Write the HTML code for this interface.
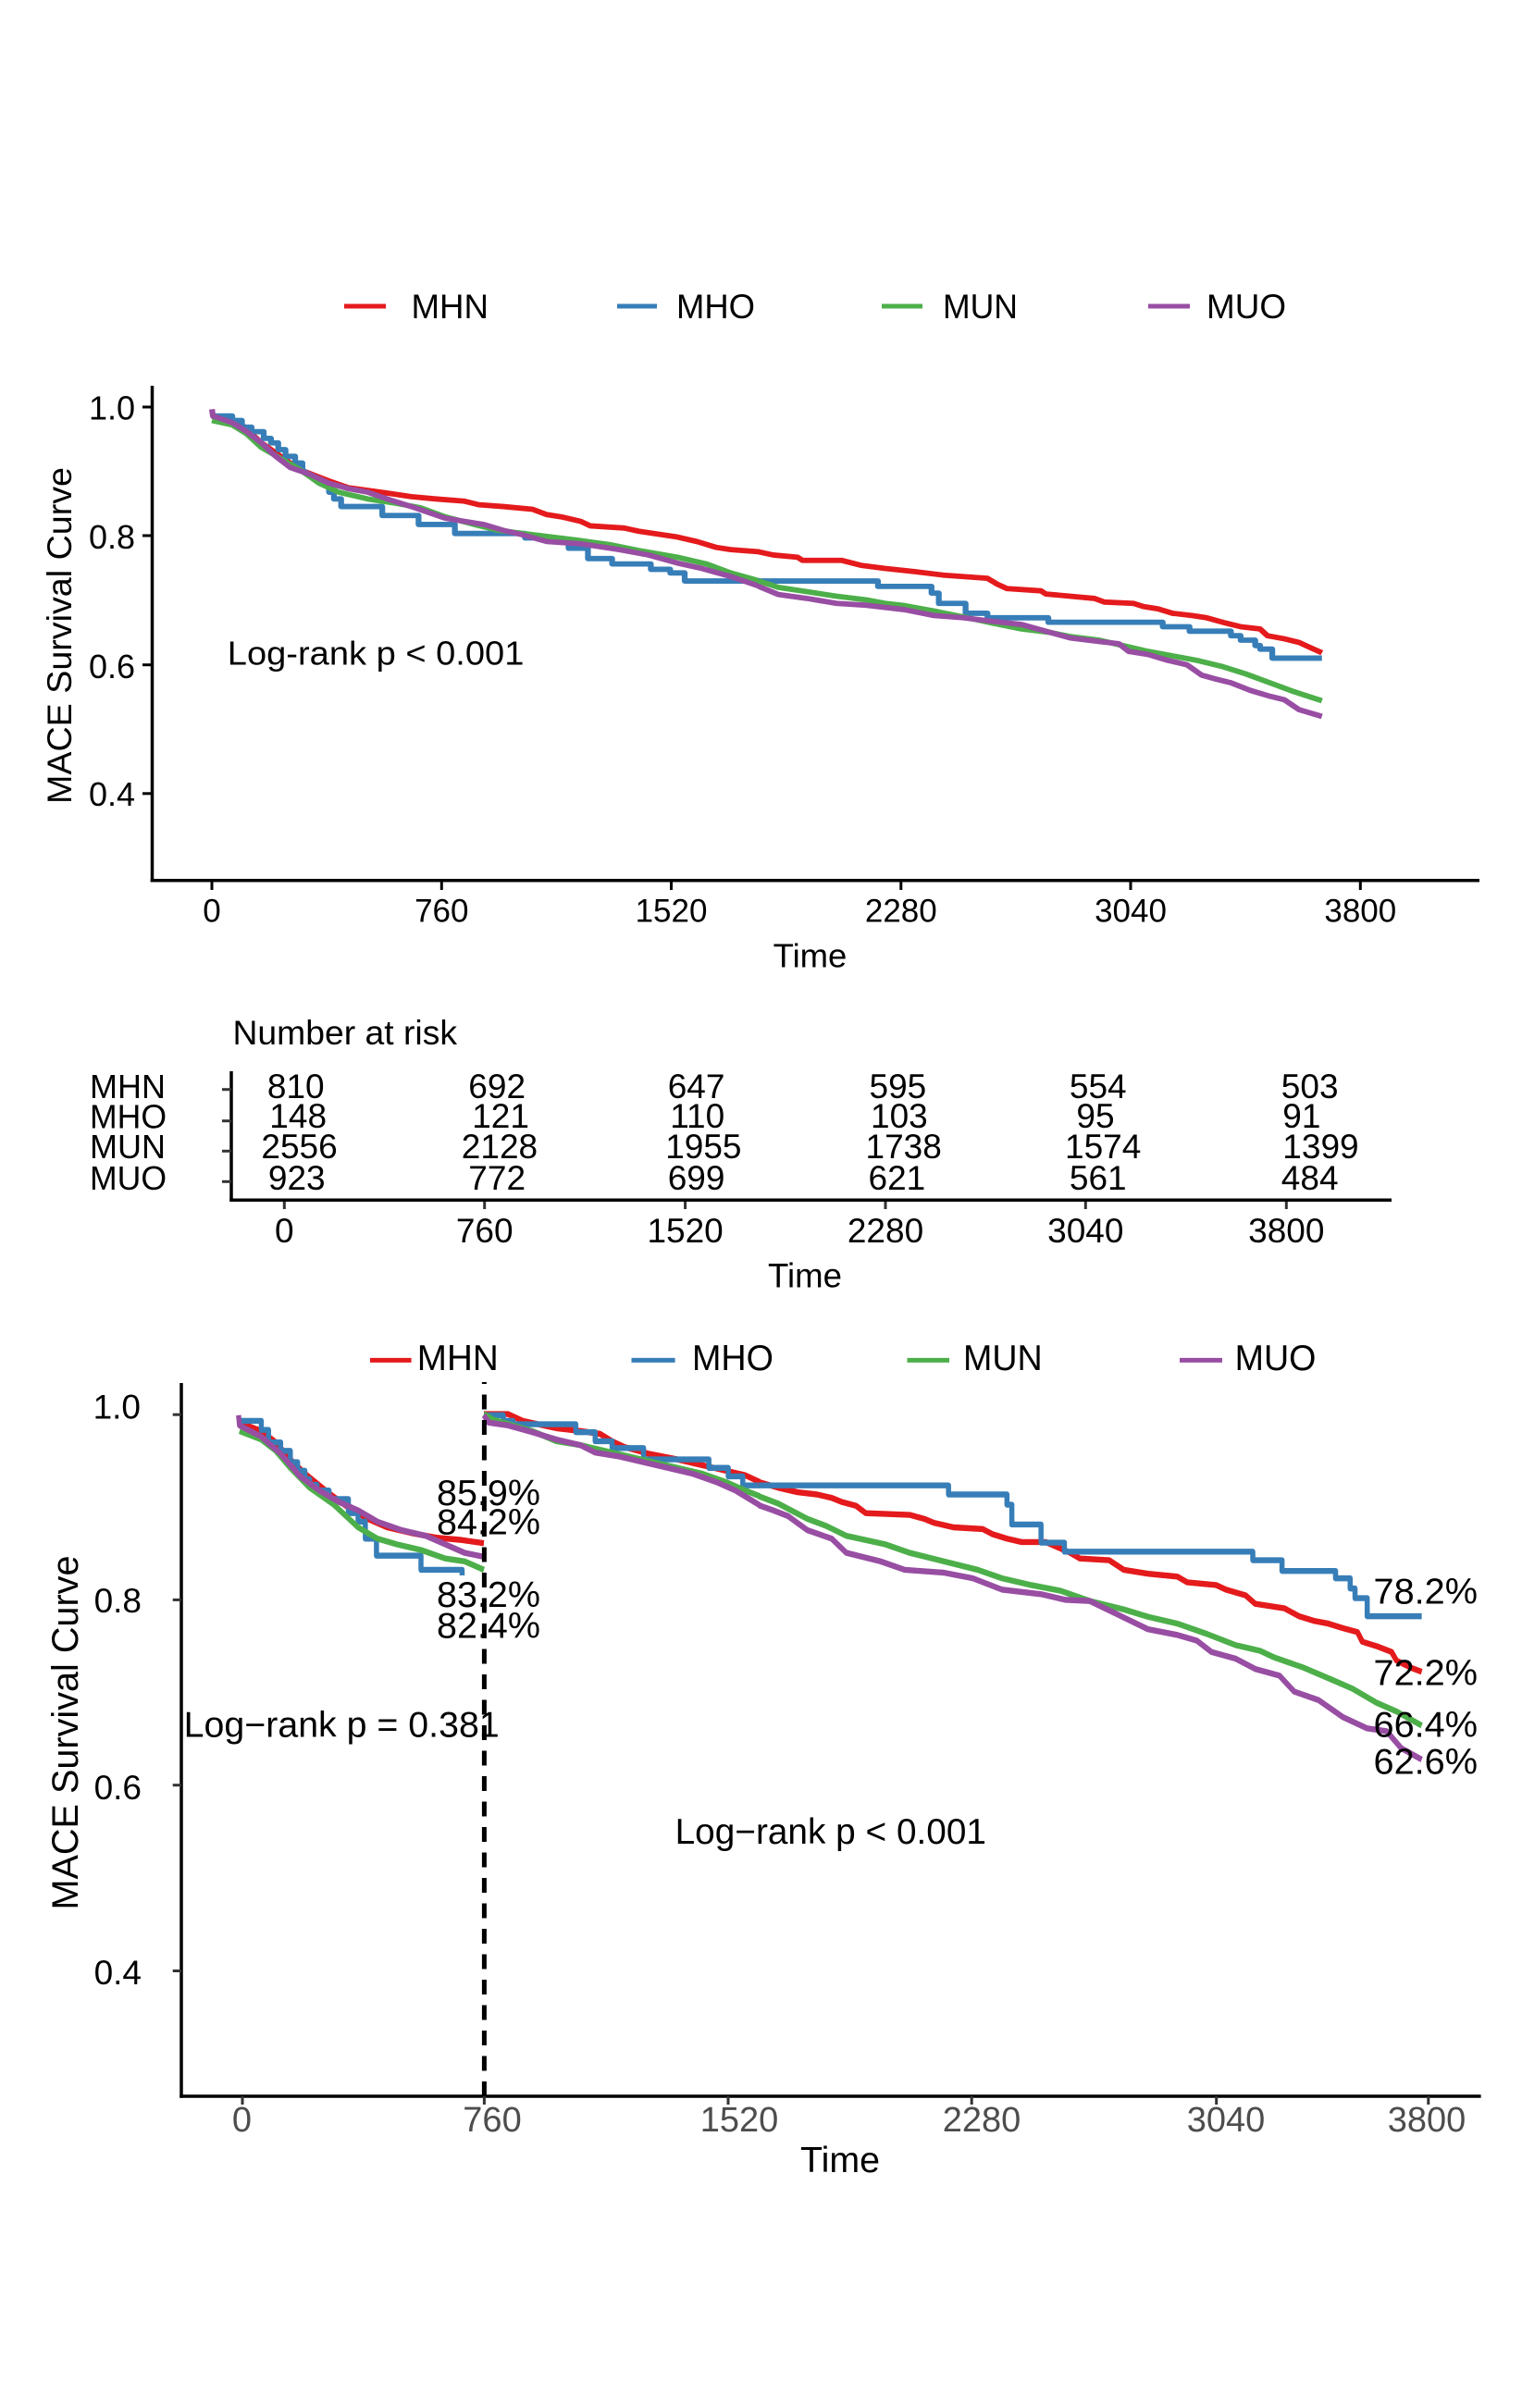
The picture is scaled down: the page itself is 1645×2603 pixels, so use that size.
<!DOCTYPE html>
<html>
<head>
<meta charset="utf-8">
<style>
html,body{margin:0;padding:0;background:#fff;}
svg{display:block;}
text{font-family:"Liberation Sans",Arial,Helvetica,sans-serif;fill:#000;}
.c{fill:none;stroke-linejoin:round;stroke-linecap:butt;}
.top .c{stroke-width:12;}
.bot .c{stroke-width:10.5;}
.r{stroke:#E41A1C;} .b{stroke:#377EB8;} .g{stroke:#4DAF4A;} .p{stroke:#984EA3;}
</style>
</head>
<body>
<svg width="1645" height="2603" viewBox="0 0 1645 2603" xmlns="http://www.w3.org/2000/svg">
<rect x="0" y="0" width="1645" height="2603" fill="#fff"/>

<!-- ================= TOP PLOT ================= -->
<g stroke-width="5">
<line x1="372" y1="331" x2="417" y2="331" stroke="#E41A1C"/>
<line x1="667" y1="331" x2="710" y2="331" stroke="#377EB8"/>
<line x1="953" y1="331" x2="997" y2="331" stroke="#4DAF4A"/>
<line x1="1241" y1="331" x2="1286" y2="331" stroke="#984EA3"/>
</g>
<g font-size="37">
<text x="444.5" y="344" textLength="83.5" lengthAdjust="spacingAndGlyphs">MHN</text>
<text x="731" y="344" textLength="85" lengthAdjust="spacingAndGlyphs">MHO</text>
<text x="1019" y="344" textLength="81" lengthAdjust="spacingAndGlyphs">MUN</text>
<text x="1304" y="344" textLength="86" lengthAdjust="spacingAndGlyphs">MUO</text>
</g>

<g class="top" transform="translate(0,280) scale(0.52300,0.48473)">
<polyline class="c r" points="438,350 500,370 540,410 580,440 620,470 680,495 720,510 800,522 850,530 900,535 960,540 990,548 1040,552 1100,558 1130,570 1160,575 1200,585 1220,595 1290,600 1320,607 1400,620 1440,630 1480,643 1510,648 1570,653"/>
<path class="c b" d="M438,350 H480 V360 H500 V375 H520 V385 H545 V400 H560 V410 H575 V425 H590 V440 H610 V455 H625 V470 L660,500 H680 V520 H690 V535 H705 V552 H790 V572 H865 V592 H940 V612 H1085 V622 H1150 V630 H1175 V645 H1215 V668 H1265 V680 H1345 V692 H1385 V700 H1415 V718 H1570"/>
<polyline class="c g" points="438,360 480,370 510,390 540,420 580,445 620,470 660,500 700,520 760,535 820,545 870,555 920,575 980,592 1030,605 1080,612 1140,620 1200,628 1260,637 1320,650 1400,665 1460,680 1510,700 1570,718"/>
<polyline class="c p" points="438,335 440,350 480,365 510,385 540,410 570,440 600,465 640,480 680,500 720,512 760,520 800,535 850,552 920,578 960,585 1000,592 1040,605 1080,615 1130,630 1200,635 1280,648 1340,660 1400,678 1450,690 1510,708 1570,730"/>
</g>
<g class="top" transform="translate(820,280) scale(0.52615,0.48473)">
<polyline class="c r" points="0,653 30,660 80,665 90,672 170,672 210,683 260,690 320,697 380,705 470,712 490,725 510,735 580,740 590,747 640,752 690,757 710,765 770,768 790,775 820,780 850,790 890,795 920,800 960,812 990,820 1030,825 1045,840 1080,847 1110,855 1130,865 1157,878"/>
<path class="c b" d="M0,718 H245 V730 H355 V745 H370 V768 H425 V790 H470 V800 H595 V810 H830 V820 H885 V830 H970 V840 H990 V850 H1020 V862 H1030 V870 H1055 V890 H1157"/>
<polyline class="c g" points="0,718 40,732 100,742 160,752 220,760 260,768 300,773 360,785 420,798 480,812 540,825 600,833 640,842 700,850 740,860 800,875 840,883 900,895 950,908 1000,925 1050,945 1100,965 1157,985"/>
<polyline class="c p" points="0,730 40,748 100,757 160,768 220,772 300,782 360,795 420,800 480,808 540,815 600,833 640,845 700,853 740,858 760,875 800,882 840,895 880,905 910,928 940,937 970,945 1010,962 1050,975 1080,983 1110,1005 1157,1020"/>
</g>

<line x1="164.5" y1="417" x2="164.5" y2="953.5" stroke="#000" stroke-width="3.5"/>
<line x1="162.7" y1="951.7" x2="1599" y2="951.7" stroke="#000" stroke-width="3.5"/>
<g stroke="#000" stroke-width="3">
<line x1="154" y1="440" x2="164" y2="440"/>
<line x1="154" y1="579" x2="164" y2="579"/>
<line x1="154" y1="718.7" x2="164" y2="718.7"/>
<line x1="154" y1="857.8" x2="164" y2="857.8"/>
<line x1="229" y1="953" x2="229" y2="962"/>
<line x1="477.3" y1="953" x2="477.3" y2="962"/>
<line x1="725.5" y1="953" x2="725.5" y2="962"/>
<line x1="973.8" y1="953" x2="973.8" y2="962"/>
<line x1="1222" y1="953" x2="1222" y2="962"/>
<line x1="1470.3" y1="953" x2="1470.3" y2="962"/>
</g>
<g font-size="36" text-anchor="end">
<text x="146" y="453.7">1.0</text>
<text x="146" y="593">0.8</text>
<text x="146" y="733">0.6</text>
<text x="146" y="871">0.4</text>
</g>
<g font-size="35" text-anchor="middle">
<text x="229" y="996.7">0</text>
<text x="477.3" y="996.7">760</text>
<text x="725.5" y="996.7">1520</text>
<text x="973.8" y="996.7">2280</text>
<text x="1222" y="996.7">3040</text>
<text x="1470.3" y="996.7">3800</text>
</g>
<text x="875.5" y="1045.7" font-size="36" text-anchor="middle" textLength="79.7" lengthAdjust="spacingAndGlyphs">Time</text>
<text transform="translate(77,687) rotate(-90)" font-size="37" text-anchor="middle" textLength="364" lengthAdjust="spacingAndGlyphs">MACE Survival Curve</text>
<text x="245.8" y="718.7" font-size="36" textLength="320.6" lengthAdjust="spacingAndGlyphs">Log-rank p &lt; 0.001</text>

<!-- ================= RISK TABLE ================= -->
<text x="251.5" y="1129" font-size="37" textLength="242.5" lengthAdjust="spacingAndGlyphs">Number at risk</text>
<g font-size="36">
<text x="97" y="1187" textLength="82" lengthAdjust="spacingAndGlyphs">MHN</text>
<text x="97" y="1219.3" textLength="83" lengthAdjust="spacingAndGlyphs">MHO</text>
<text x="97" y="1252" textLength="82" lengthAdjust="spacingAndGlyphs">MUN</text>
<text x="97" y="1286" textLength="83" lengthAdjust="spacingAndGlyphs">MUO</text>
</g>
<line x1="250" y1="1158" x2="250" y2="1299" stroke="#000" stroke-width="3.5"/>
<line x1="248.3" y1="1297.3" x2="1504" y2="1297.3" stroke="#000" stroke-width="3.5"/>
<g stroke="#333" stroke-width="3">
<line x1="240" y1="1177.7" x2="250" y2="1177.7"/>
<line x1="240" y1="1211.7" x2="250" y2="1211.7"/>
<line x1="240" y1="1244.3" x2="250" y2="1244.3"/>
<line x1="240" y1="1277.3" x2="250" y2="1277.3"/>
<line x1="307.3" y1="1299" x2="307.3" y2="1307"/>
<line x1="523.7" y1="1299" x2="523.7" y2="1307"/>
<line x1="740.6" y1="1299" x2="740.6" y2="1307"/>
<line x1="957" y1="1299" x2="957" y2="1307"/>
<line x1="1173.3" y1="1299" x2="1173.3" y2="1307"/>
<line x1="1390.3" y1="1299" x2="1390.3" y2="1307"/>
</g>
<g font-size="37">
<text x="288.9" y="1187">810</text>
<text x="291.3" y="1219">148</text>
<text x="282.4" y="1252">2556</text>
<text x="289.9" y="1286">923</text>
<text x="506.3" y="1187">692</text>
<text x="510.2" y="1219">121</text>
<text x="498.8" y="1252">2128</text>
<text x="506.3" y="1286">772</text>
<text x="721.7" y="1187">647</text>
<text x="724.2" y="1219">110</text>
<text x="719.2" y="1252">1955</text>
<text x="721.7" y="1286">699</text>
<text x="939.5" y="1187">595</text>
<text x="941" y="1219">103</text>
<text x="935.5" y="1252">1738</text>
<text x="938.5" y="1286">621</text>
<text x="1155.9" y="1187">554</text>
<text x="1163.4" y="1219">95</text>
<text x="1151" y="1252">1574</text>
<text x="1155.9" y="1286">561</text>
<text x="1384.8" y="1187">503</text>
<text x="1386.3" y="1219">91</text>
<text x="1386.3" y="1252">1399</text>
<text x="1384.8" y="1286">484</text>
</g>
<g font-size="37" text-anchor="middle">
<text x="307.3" y="1343">0</text>
<text x="523.7" y="1343">760</text>
<text x="740.6" y="1343">1520</text>
<text x="957" y="1343">2280</text>
<text x="1173.3" y="1343">3040</text>
<text x="1390.3" y="1343">3800</text>
</g>
<text x="870" y="1391.7" font-size="37" text-anchor="middle" textLength="80" lengthAdjust="spacingAndGlyphs">Time</text>

<!-- ================= BOTTOM PLOT ================= -->
<g stroke-width="5">
<line x1="400" y1="1470.4" x2="444.6" y2="1470.4" stroke="#E41A1C"/>
<line x1="682.5" y1="1470.4" x2="729.6" y2="1470.4" stroke="#377EB8"/>
<line x1="980.5" y1="1470.4" x2="1026" y2="1470.4" stroke="#4DAF4A"/>
<line x1="1275" y1="1470.4" x2="1321" y2="1470.4" stroke="#984EA3"/>
</g>
<g font-size="39">
<text x="450.8" y="1481" textLength="88" lengthAdjust="spacingAndGlyphs">MHN</text>
<text x="748" y="1481" textLength="88" lengthAdjust="spacingAndGlyphs">MHO</text>
<text x="1041" y="1481" textLength="85.7" lengthAdjust="spacingAndGlyphs">MUN</text>
<text x="1334.6" y="1481" textLength="87.8" lengthAdjust="spacingAndGlyphs">MUO</text>
</g>

<g class="bot" transform="translate(0,1400) scale(0.52300,0.61224)">
<polyline class="c r" points="495,225 540,240 570,260 600,290 630,315 680,350 720,375 760,395 800,410 850,420 900,428 950,432 1000,438"/>
<path class="c b" d="M495,222 H540 V238 H555 V260 H580 V275 H600 V295 H615 V310 H630 V325 H640 V335 H655 V345 H680 V360 H720 V385 H740 V400 H755 V430 H778 V460 H870 V485 H955 V495"/>
<polyline class="c g" points="495,240 540,255 570,275 600,305 640,340 690,370 740,410 780,430 820,440 870,450 920,465 960,470 1000,485"/>
<polyline class="c p" points="493,212 495,230 540,250 580,280 620,320 660,345 700,365 740,380 780,400 830,415 880,425 920,440 960,455 1000,462"/>

<polyline class="c r" points="1000,210 1050,210 1080,222 1150,235 1200,240 1240,245 1265,258 1290,268 1340,280 1400,290 1450,300 1510,312 1540,318 1570,330"/>
<path class="c b" d="M1000,212 H1040 V222 H1060 V228 H1190 V242 H1230 V258 H1265 V270 H1330 V290 H1465 V305 H1505 V320 H1535 V336 H1570"/>
<polyline class="c g" points="1000,210 1020,220 1060,230 1100,240 1150,258 1200,265 1250,275 1300,285 1350,295 1400,305 1450,315 1500,330 1540,345 1570,355"/>
<polyline class="c p" points="1000,212 1010,225 1050,230 1100,242 1150,255 1200,265 1230,278 1280,285 1330,295 1380,305 1430,315 1480,330 1520,345 1570,371"/>
</g>
<g class="bot" transform="translate(820,1400) scale(0.52615,0.61224)">
<polyline class="c r" points="0,330 40,340 80,348 120,352 150,358 170,365 200,372 220,385 310,388 340,395 360,402 400,410 460,413 480,422 510,430 540,436 590,436 640,455 660,465 720,468 750,485 800,492 860,497 880,507 940,512 960,520 1000,530 1020,545 1080,553 1110,567 1140,575 1170,580 1200,588 1230,595 1240,612 1270,620 1300,630 1310,645 1340,658 1362,665"/>
<path class="c b" d="M0,336 H390 V352 H510 V370 H520 V405 H580 V437 H628 V453 H1015 V468 H1075 V487 H1185 V500 H1215 V518 H1225 V535 H1250 V567 H1362"/>
<polyline class="c g" points="0,355 40,368 100,395 140,408 180,425 260,440 310,455 380,470 450,485 500,500 560,512 620,522 680,540 750,555 800,568 860,580 920,598 980,618 1030,628 1060,640 1120,658 1180,680 1220,695 1270,720 1310,735 1362,760"/>
<polyline class="c p" points="0,371 30,380 60,390 100,415 150,430 180,455 250,470 300,485 380,490 440,500 500,520 580,528 630,538 680,540 740,565 800,590 860,600 900,610 930,630 980,642 1020,660 1070,672 1100,700 1150,715 1200,745 1250,765 1290,770 1320,800 1362,820"/>
</g>

<line x1="523.4" y1="2266" x2="523.4" y2="1494" stroke="#000" stroke-width="5" stroke-dasharray="16 11.5"/>

<line x1="196" y1="1495" x2="196" y2="2267.7" stroke="#000" stroke-width="3.5"/>
<line x1="194.3" y1="2266" x2="1600.6" y2="2266" stroke="#000" stroke-width="3.5"/>
<g stroke="#333" stroke-width="3">
<line x1="186.7" y1="1529.2" x2="196" y2="1529.2"/>
<line x1="186.7" y1="1729.4" x2="196" y2="1729.4"/>
<line x1="186.7" y1="1929.7" x2="196" y2="1929.7"/>
<line x1="186.7" y1="2130.5" x2="196" y2="2130.5"/>
<line x1="262" y1="2266" x2="262" y2="2275"/>
<line x1="523.4" y1="2266" x2="523.4" y2="2275"/>
<line x1="787" y1="2266" x2="787" y2="2275"/>
<line x1="1050.2" y1="2266" x2="1050.2" y2="2275"/>
<line x1="1314.7" y1="2266" x2="1314.7" y2="2275"/>
<line x1="1543.8" y1="2266" x2="1543.8" y2="2275"/>
</g>
<g font-size="37" text-anchor="end">
<text x="152" y="1533.5">1.0</text>
<text x="153" y="1743">0.8</text>
<text x="153" y="1945">0.6</text>
<text x="153" y="2145">0.4</text>
</g>
<g font-size="38" text-anchor="middle">
<text x="261.5" y="2304" style="fill:#4D4D4D">0</text>
<text x="532" y="2304" style="fill:#4D4D4D">760</text>
<text x="799" y="2304" style="fill:#4D4D4D">1520</text>
<text x="1061" y="2304" style="fill:#4D4D4D">2280</text>
<text x="1325" y="2304" style="fill:#4D4D4D">3040</text>
<text x="1542" y="2304" style="fill:#4D4D4D">3800</text>
</g>
<text x="908" y="2348" font-size="38.5" text-anchor="middle" textLength="86" lengthAdjust="spacingAndGlyphs">Time</text>
<text transform="translate(84,1873) rotate(-90)" font-size="39.5" text-anchor="middle" textLength="383" lengthAdjust="spacingAndGlyphs">MACE Survival Curve</text>

<g font-size="39">
<text x="472" y="1627" textLength="112" lengthAdjust="spacingAndGlyphs">85.9%</text>
<text x="472" y="1658.4" textLength="112" lengthAdjust="spacingAndGlyphs">84.2%</text>
<text x="472" y="1736.8" textLength="112" lengthAdjust="spacingAndGlyphs">83.2%</text>
<text x="472" y="1770.5" textLength="112" lengthAdjust="spacingAndGlyphs">82.4%</text>
<text x="1484.5" y="1733.7" textLength="112.5" lengthAdjust="spacingAndGlyphs">78.2%</text>
<text x="1484.5" y="1821.3" textLength="112.5" lengthAdjust="spacingAndGlyphs">72.2%</text>
<text x="1484.5" y="1877.6" textLength="112.5" lengthAdjust="spacingAndGlyphs">66.4%</text>
<text x="1484.5" y="1917.5" textLength="112.5" lengthAdjust="spacingAndGlyphs">62.6%</text>
<text x="198.7" y="1877.6" textLength="341" lengthAdjust="spacingAndGlyphs">Log−rank p = 0.381</text>
<text x="729.6" y="1992.8" textLength="336.4" lengthAdjust="spacingAndGlyphs">Log−rank p &lt; 0.001</text>
</g>
</svg>
</body>
</html>
